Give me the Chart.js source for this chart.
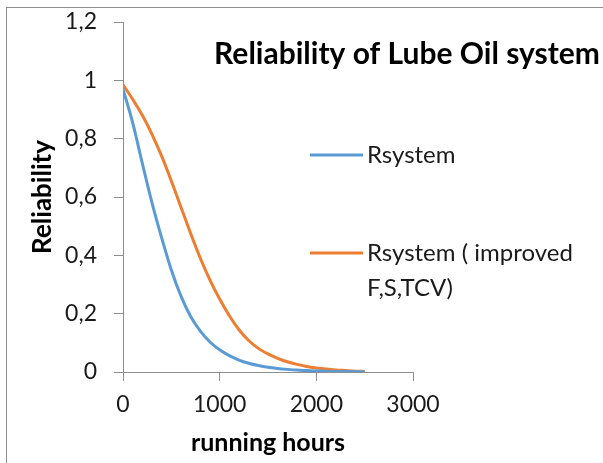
<!DOCTYPE html>
<html><head><meta charset="utf-8">
<script src="https://cdn.jsdelivr.net/npm/chart.js@4"></script>
<style>
html,body{margin:0;padding:0;background:#fff;}
#wrap{position:relative;width:603px;height:463px;overflow:hidden;background:#fff;}
#frame{position:absolute;left:6px;top:7px;width:640px;height:500px;border:1px solid #8e8e8e;box-sizing:border-box;}
canvas{position:absolute;left:0;top:0;}
</style></head>
<body><div id="wrap"><div id="frame"></div><canvas id="c" width="603" height="463"></canvas></div>
<script>
const hours = [0,100,200,300,400,500,600,700,800,900,1000,1100,1200,1300,1400,1500,1600,1700,1800,1900,2000,2100,2200,2300,2400,2500];
const rSystem = [0.97,0.855,0.715,0.58,0.46,0.35,0.26,0.19,0.14,0.103,0.076,0.056,0.041,0.03,0.022,0.016,0.012,0.009,0.0065,0.005,0.0035,0.0025,0.002,0.0015,0.001,0.001];
const rImproved = [0.985,0.935,0.88,0.815,0.74,0.655,0.565,0.475,0.39,0.315,0.25,0.193,0.145,0.108,0.081,0.062,0.047,0.035,0.026,0.019,0.014,0.010,0.007,0.005,0.003,0.002];
const seriesNames = ['Rsystem', 'Rsystem ( improved F,S,TCV)'];
const legendLines = [['Rsystem'], ['Rsystem ( improved', 'F,S,TCV)']];
const seriesColors = ['#5B9BD5', '#ED7D31'];
const yTickLabels = ['0', '0,2', '0,4', '0,6', '0,8', '1', '1,2'];
const xTickLabels = ['0', '1000', '2000', '3000'];
const chartTitle = 'Reliability of Lube Oil system';
const xTitle = 'running hours';
const yTitle = 'Reliability';

const toPts = arr => hours.map((h, i) => ({x: h, y: arr[i]}));

const overlay = {
  id: 'overlay',
  afterDraw(chart) {
    const ctx = chart.ctx;
    ctx.save();
    ctx.fillStyle = '#000';
    ctx.font = 'bold 30px Lato';
    ctx.textAlign = 'center';
    ctx.textBaseline = 'alphabetic';
    ctx.fillText(chartTitle, 407, 64);
    const ys = [155, 253];
    chart.data.datasets.forEach((ds, i) => {
      ctx.strokeStyle = ds.borderColor;
      ctx.lineWidth = 3;
      ctx.beginPath();
      ctx.moveTo(310, ys[i]);
      ctx.lineTo(363, ys[i]);
      ctx.stroke();
      ctx.fillStyle = '#1a1a1a';
      ctx.font = '24px Lato';
      ctx.textAlign = 'left';
      ctx.textBaseline = 'middle';
      legendLines[i].forEach((t, k) => ctx.fillText(t, 367, ys[i] + k * 35));
    });
    ctx.restore();
  }
};

new Chart(document.getElementById('c'), {
  type: 'line',
  data: {
    datasets: [
      {label: seriesNames[0], data: toPts(rSystem), borderColor: seriesColors[0], backgroundColor: seriesColors[0], borderWidth: 3, pointRadius: 0, cubicInterpolationMode: 'monotone', fill: false},
      {label: seriesNames[1], data: toPts(rImproved), borderColor: seriesColors[1], backgroundColor: seriesColors[1], borderWidth: 3, pointRadius: 0, cubicInterpolationMode: 'monotone', fill: false}
    ]
  },
  options: {
    responsive: false,
    animation: false,
    devicePixelRatio: 1,
    layout: {padding: {left: 0, right: 190, top: 22, bottom: 0}},
    plugins: {legend: {display: false}, title: {display: false}, tooltip: {enabled: false}},
    scales: {
      x: {
        type: 'linear', min: 0, max: 3000,
        ticks: {stepSize: 1000, maxRotation: 0, padding: 10, color: '#1a1a1a', font: {family: 'Lato', size: 23},
          callback: v => xTickLabels[Math.round(v / 1000)]},
        grid: {drawOnChartArea: false, drawTicks: true, tickLength: 9, color: '#8e8e8e'},
        border: {display: true, color: '#8e8e8e', width: 1},
        title: {display: true, text: xTitle, color: '#000', font: {family: 'Lato', size: 25, weight: 'bold'}, padding: {top: 4, bottom: 5}},
        afterFit(s) { s.height = 91; s.paddingLeft = 0; s.paddingRight = 0; }
      },
      y: {
        min: 0, max: 1.2,
        ticks: {stepSize: 0.2, padding: 17, color: '#1a1a1a', font: {family: 'Lato', size: 23},
          callback: v => yTickLabels[Math.round(v / 0.2)]},
        grid: {drawOnChartArea: false, drawTicks: true, tickLength: 9, color: '#8e8e8e'},
        border: {display: true, color: '#8e8e8e', width: 1},
        title: {display: true, text: yTitle, color: '#000', font: {family: 'Lato', size: 26, weight: 'bold'}, padding: {top: 27, bottom: 0}},
        afterFit(s) { s.width = 123; s.paddingTop = 0; s.paddingBottom = 0; }
      }
    }
  },
  plugins: [overlay]
});
</script>
</body></html>
